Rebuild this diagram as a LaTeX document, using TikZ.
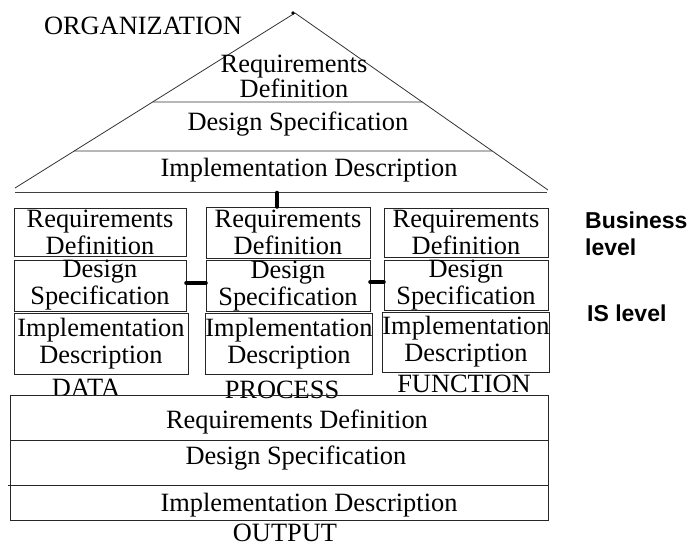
\documentclass[tikz,border=0pt]{standalone}
\usepackage{fontspec}
\setmainfont{Liberation Serif}
\newfontfamily\sidefont{Liberation Sans}
\usetikzlibrary{calc}
\newcommand{\txtsz}{\fontsize{26.4}{27}\selectfont}
\newcommand{\sidesz}{\sidefont\bfseries\fontsize{23}{27}\selectfont}
\begin{document}
\begin{tikzpicture}[x=1pt,y=-1pt,
  lbl/.style={font=\txtsz, inner sep=0pt, align=center},
  cell/.style={draw=black!85, line width=1pt, inner sep=0pt, font=\txtsz, align=center},
  thin/.style={draw=black!80, line width=0.8pt},
  link/.style={line width=4.6pt, line cap=round},
  sidelbl/.style={font=\sidesz, anchor=west, inner sep=0pt}]
\useasboundingbox (0,0) rectangle (688,547);
% ---- triangle (organization)
\coordinate (apex) at (295,13);
\coordinate (tl) at (15,188);
\coordinate (tr) at (548,190);
\coordinate (bl) at (15,192.5);
\coordinate (br) at (547,192.5);
\draw[thin] (tl) -- (apex) -- (tr);
\fill (apex) ++(-2,0) circle (1.8);
\draw[draw=black!75, line width=1.6pt] (bl) -- (br);
\draw[thin] ($(apex)!0.5086!(tl)$) -- ($(apex)!0.503!(tr)$);
\draw[thin] ($(apex)!0.789!(tl)$) -- ($(apex)!0.780!(tr)$);
\node[lbl] (org) at (143,26) {ORGANIZATION};
\node[lbl, font=\fontsize{26.4}{25}\selectfont] (oreq) at (294,76) {Requirements\\Definition};
\node[lbl] (odes) at (298,124) {Design Specification};
\node[lbl] (oimp) at (309,170) {Implementation Description};
% ---- three columns
\node[cell, minimum width=172, minimum height=48] (d1) at (100,232) {Requirements\\Definition};
\node[cell, minimum width=172, minimum height=51] (d2) at (100,285.5) {Design\\Specification};
\node[cell, minimum width=174, minimum height=61] (d3) at (101,343.5) {Implementation\\Description};
\node[cell, minimum width=164, minimum height=51] (p1) at (288,232.5) {Requirements\\Definition};
\node[cell, minimum width=164, minimum height=50] (p2) at (288,286) {Design\\Specification};
\node[cell, minimum width=166, minimum height=61] (p3) at (289,343.5) {Implementation\\Description};
\node[cell, minimum width=164, minimum height=49] (f1) at (466,232.5) {Requirements\\Definition};
\node[cell, minimum width=164, minimum height=49] (f2) at (466,285.5) {Design\\Specification};
\node[cell, minimum width=164, minimum height=60] (f3) at (466,342) {Implementation\\Description};
\node[lbl] (data) at (86,388) {DATA};
\node[lbl] (proc) at (282,390) {PROCESS};
\node[lbl] (func) at (464,384) {FUNCTION};
% ---- connectors
\coordinate (topc) at (277,193);
\draw[link] (topc) -- (topc |- p1.north);
\draw[link] (d2.east |- 0,283) -- (p2.west |- 0,283);
\draw[link] (p2.east |- 0,282) -- (f2.west |- 0,282);
% ---- output box
\node[cell, minimum width=537.3, minimum height=125] (out) at (279.35,457.5) {};
\draw[draw=black!85, line width=1pt] (out.west |- 0,440) -- (out.east |- 0,440);
\draw[draw=black!85, line width=1pt] (8,485.7) -- (out.east |- 0,485.7);
\node[lbl] (oreqd) at (297,422) {Requirements Definition};
\node[lbl] (odesd) at (296,458) {Design Specification};
\node[lbl] (oimpd) at (309,505) {Implementation Description};
\node[lbl] (outp) at (285,533) {OUTPUT};
% ---- side labels
\node[sidelbl] (bus) at (585,220) {Business};
\node[sidelbl] (lev) at (585,247) {level};
\node[sidelbl] (isl) at (587,313) {IS level};
\end{tikzpicture}
\end{document}
